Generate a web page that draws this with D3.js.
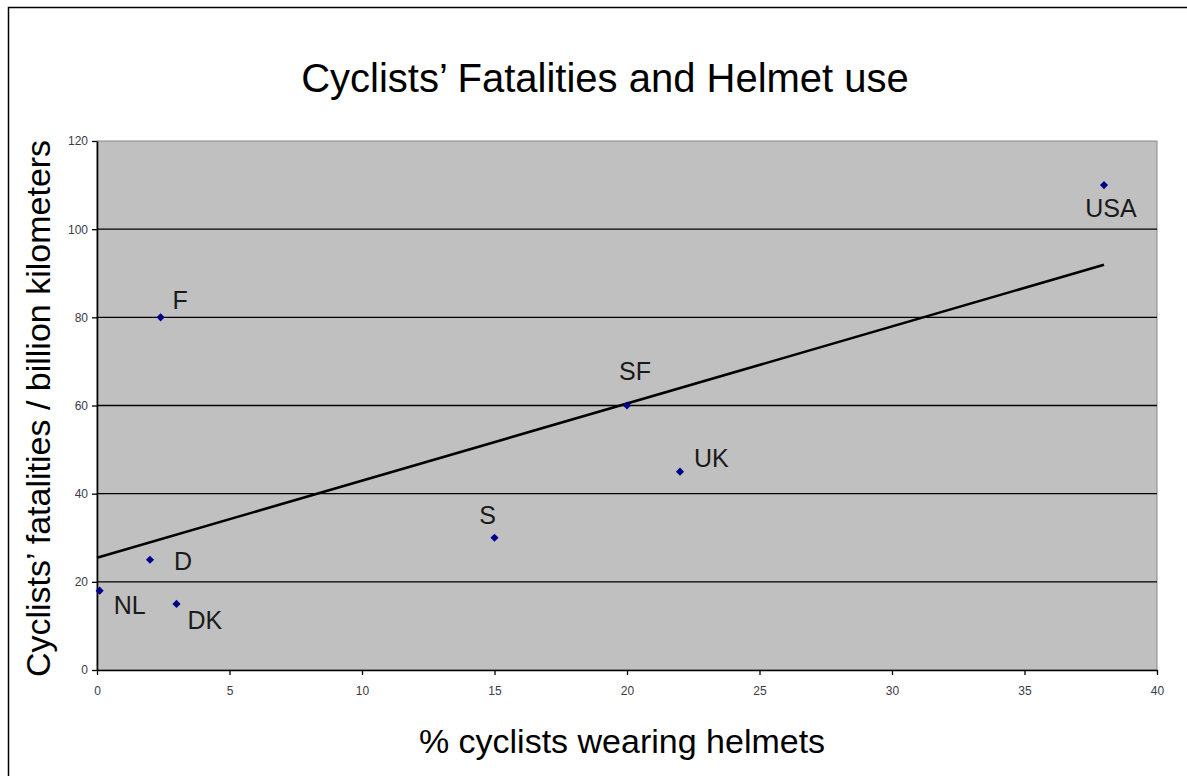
<!DOCTYPE html>
<html>
<head>
<meta charset="utf-8">
<script src="https://cdn.jsdelivr.net/npm/d3@7"></script>
<style>
  html, body { margin: 0; padding: 0; background: #fff; }
  svg { display: block; font-family: "Liberation Sans", Arial, sans-serif; }
</style>
</head>
<body>
<svg id="chart" width="1187" height="776"></svg>
<script>
// Country codes, helmet-wearing share (%) and fatalities per billion km
const countries = ["NL", "D", "DK", "F", "S", "SF", "UK", "USA"];
const helmetPct = [0.1, 2, 3, 2.4, 15, 20, 22, 38];
const fatalities = [18, 25, 15, 80, 30, 60, 45, 110];

const xTicks = [0, 5, 10, 15, 20, 25, 30, 35, 40];
const yTicks = [0, 20, 40, 60, 80, 100, 120];

// label placement relative to each marker (text anchor + offset in px)
const labelOffsets = {
  NL:  { dx: 14, dy: 14, anchor: "start" },
  D:   { dx: 24, dy: 1, anchor: "start" },
  DK:  { dx: 11, dy: 16, anchor: "start" },
  F:   { dx: 12, dy: -17, anchor: "start" },
  S:   { dx: -7, dy: -23, anchor: "middle" },
  SF:  { dx: 8, dy: -35, anchor: "middle" },
  UK:  { dx: 14, dy: -14, anchor: "start" },
  USA: { dx: 7, dy: 23, anchor: "middle" }
};

const svg = d3.select("#chart");
const W = 1187, H = 776;
const plot = { left: 97, top: 141, right: 1157, bottom: 670 };

// outer chart frame
svg.append("rect")
  .attr("x", 8.5).attr("y", 7.5)
  .attr("width", W + 20).attr("height", H + 20)
  .attr("fill", "#fff").attr("stroke", "#000").attr("stroke-width", 1.5);

const x = d3.scaleLinear().domain([0, 40]).range([plot.left, plot.right]);
const y = d3.scaleLinear().domain([0, 120]).range([plot.bottom, plot.top]);

// plot background
svg.append("rect")
  .attr("x", plot.left).attr("y", plot.top)
  .attr("width", plot.right - plot.left).attr("height", plot.bottom - plot.top)
  .attr("fill", "#c0c0c0").attr("stroke", "#8a8a8a").attr("stroke-width", 1);

// horizontal gridlines
svg.append("g")
  .selectAll("line")
  .data(yTicks.filter(v => v > 0 && v < 120))
  .join("line")
  .attr("x1", plot.left).attr("x2", plot.right)
  .attr("y1", d => y(d)).attr("y2", d => y(d))
  .attr("stroke", "#000").attr("stroke-width", 1.4);

// axes
const yAxis = d3.axisLeft(y).tickValues(yTicks).tickSize(5).tickSizeOuter(0).tickPadding(4);
const xAxis = d3.axisBottom(x).tickValues(xTicks).tickSize(5).tickSizeOuter(0).tickPadding(11);

const gy = svg.append("g").attr("transform", `translate(${plot.left},0)`).call(yAxis);
const gx = svg.append("g").attr("transform", `translate(0,${plot.bottom})`).call(xAxis);

[gx, gy].forEach(g => {
  g.select(".domain").attr("stroke", "#000").attr("stroke-width", 1.6);
  g.selectAll(".tick line").attr("stroke", "#000").attr("stroke-width", 1.3);
  g.selectAll(".tick text")
    .attr("fill", "#3a3a4a")
    .style("font-size", "12px")
    .style("font-family", "'Liberation Sans', Arial, sans-serif");
});

// least-squares trend line over the data range
const n = helmetPct.length;
const mx = d3.mean(helmetPct), my = d3.mean(fatalities);
let sxy = 0, sxx = 0;
for (let i = 0; i < n; i++) {
  sxy += (helmetPct[i] - mx) * (fatalities[i] - my);
  sxx += (helmetPct[i] - mx) ** 2;
}
const slope = sxy / sxx, intercept = my - slope * mx;
const xr = [0, d3.max(helmetPct)];
svg.append("line")
  .attr("x1", x(xr[0])).attr("y1", y(intercept + slope * xr[0]))
  .attr("x2", x(xr[1])).attr("y2", y(intercept + slope * xr[1]))
  .attr("stroke", "#000").attr("stroke-width", 2.6);

// data points as diamonds
const pts = countries.map((c, i) => ({ c, x: helmetPct[i], y: fatalities[i] }));
const diamond = d3.symbol().type(d3.symbolDiamond2).size(42);
svg.append("g")
  .selectAll("path")
  .data(pts)
  .join("path")
  .attr("d", diamond)
  .attr("transform", d => `translate(${x(d.x)},${y(d.y)})`)
  .attr("fill", "#00008b");

// point labels
svg.append("g")
  .selectAll("text")
  .data(pts)
  .join("text")
  .attr("x", d => x(d.x) + labelOffsets[d.c].dx)
  .attr("y", d => y(d.y) + labelOffsets[d.c].dy)
  .attr("text-anchor", d => labelOffsets[d.c].anchor)
  .attr("dominant-baseline", "central")
  .attr("fill", "#1a1a1a")
  .style("font-size", "25px")
  .text(d => d.c);

// title
svg.append("text")
  .attr("x", 605).attr("y", 92)
  .attr("text-anchor", "middle")
  .style("font-size", "40px")
  .attr("fill", "#000")
  .text("Cyclists’ Fatalities and Helmet use");

// axis titles
svg.append("text")
  .attr("x", 622).attr("y", 753)
  .attr("text-anchor", "middle")
  .style("font-size", "34px")
  .attr("fill", "#000")
  .text("% cyclists wearing helmets");

svg.append("text")
  .attr("transform", `translate(50,${(plot.top + plot.bottom) / 2 + 3}) rotate(-90)`)
  .attr("text-anchor", "middle")
  .style("font-size", "34px")
  .attr("fill", "#000")
  .text("Cyclists’ fatalities / billion kilometers");
</script>
</body>
</html>
